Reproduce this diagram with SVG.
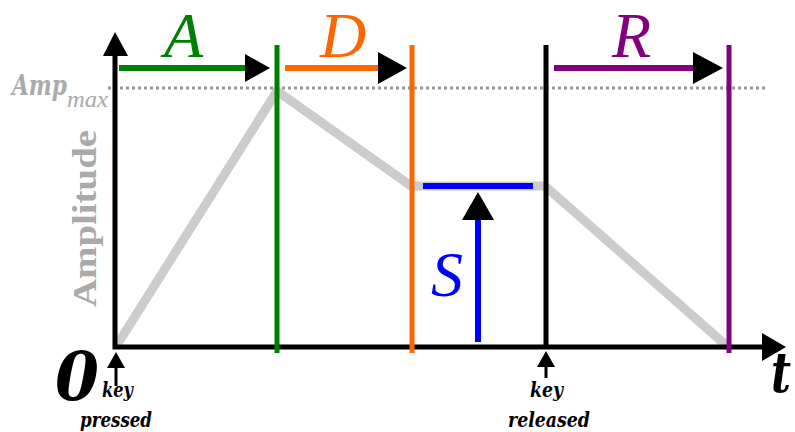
<svg xmlns="http://www.w3.org/2000/svg" width="795" height="432" viewBox="0 0 795 432">
<defs>
<style>
.ax{stroke:#000;stroke-width:5;fill:none}
.head{fill:#000}
.lbl{font-family:"Liberation Serif","DejaVu Serif",serif;font-style:italic;font-size:64px}
.bi{font-family:"DejaVu Serif","Liberation Serif",serif;font-style:italic;font-weight:bold}
.vl{stroke-width:5;fill:none}
</style>
</defs>
<rect width="795" height="432" fill="#fff"/>
<g id="envelope">
<polyline points="117,345 277,91 411,186 545,186 728,347" fill="none" stroke="#cccccc" stroke-width="9" stroke-linejoin="miter"/>
</g>
<g id="ampmax-line">
<line x1="108" y1="88" x2="766" y2="88" stroke="#999" stroke-width="3" stroke-dasharray="3,3"/>
</g>
<g id="axes">
<polyline class="ax" points="115,50 115,347 765,347"/>
<polygon class="head" points="115,32 103,56 128,56"/>
<polygon class="head" points="786,347 762,333 762,361"/>
</g>
<g id="connectors">
<line x1="277" y1="45" x2="277" y2="353" stroke="#008000" class="vl"/>
<line x1="412" y1="45" x2="412" y2="353" stroke="#ff6600" class="vl"/>
<line x1="546" y1="45" x2="546" y2="347" stroke="#000" class="vl"/>
<line x1="729" y1="45" x2="729" y2="353" stroke="#800080" class="vl"/>
<line x1="119" y1="68" x2="248" y2="68" stroke="#008000" stroke-width="6"/>
<polygon class="head" points="270,68 245,54 245,82"/>
<line x1="285" y1="68" x2="382" y2="68" stroke="#ff6600" stroke-width="6"/>
<polygon class="head" points="407,68 378,52 378,84"/>
<line x1="554" y1="68" x2="697" y2="68" stroke="#800080" stroke-width="6"/>
<polygon class="head" points="723,68 693,52 693,84"/>
<line x1="423" y1="186" x2="533" y2="186" stroke="#0000ff" stroke-width="6"/>
<line x1="478" y1="342" x2="478" y2="216" stroke="#0000ff" stroke-width="6"/>
<polygon class="head" points="478,192 462,220 494,220"/>
<line x1="116" y1="386" x2="116" y2="366" stroke="#000" stroke-width="3"/>
<polygon class="head" points="116,352 107,368 125,368"/>
<line x1="546" y1="378" x2="546" y2="364" stroke="#000" stroke-width="3"/>
<polygon class="head" points="546,351 537,367 555,367"/>
</g>
<g id="labels">
<text class="lbl" x="164" y="57" fill="#008000">A</text>
<text class="lbl" x="320" y="57" fill="#ff6600">D</text>
<text class="lbl" x="612" y="57" fill="#800080">R</text>
<text class="lbl" x="431" y="296" fill="#0000ff">S</text>
<text transform="translate(96,307) rotate(-90)" font-family="'Liberation Serif','DejaVu Serif',serif" font-weight="bold" font-size="34" fill="#aaaaaa" textLength="177" lengthAdjust="spacingAndGlyphs">Amplitude</text>
<text class="bi" x="12" y="95" font-size="28" fill="#aaaaaa" textLength="55" lengthAdjust="spacingAndGlyphs">Amp</text>
<text x="67" y="107" font-family="'Liberation Serif','DejaVu Serif',serif" font-style="italic" font-size="24" fill="#aaaaaa" textLength="41" lengthAdjust="spacingAndGlyphs">max</text>
<text class="bi" x="55" y="400" font-size="68" fill="#000" textLength="44" lengthAdjust="spacingAndGlyphs">0</text>
<text class="bi" x="771" y="392" font-size="56" fill="#000" textLength="20" lengthAdjust="spacingAndGlyphs">t</text>
<text class="bi" x="102" y="397" font-size="20" fill="#000" textLength="31" lengthAdjust="spacingAndGlyphs">key</text>
<text class="bi" x="80" y="427" font-size="20" fill="#000" textLength="72" lengthAdjust="spacingAndGlyphs">pressed</text>
<text class="bi" x="530" y="397" font-size="20" fill="#000" textLength="33" lengthAdjust="spacingAndGlyphs">key</text>
<text class="bi" x="508" y="427" font-size="20" fill="#000" textLength="82" lengthAdjust="spacingAndGlyphs">released</text>
</g>
</svg>
